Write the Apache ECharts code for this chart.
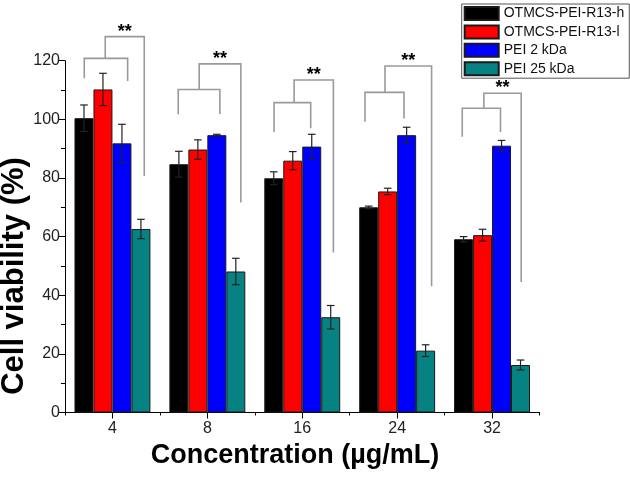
<!DOCTYPE html>
<html>
<head>
<meta charset="utf-8">
<script src="https://cdn.jsdelivr.net/npm/echarts@6/dist/echarts.min.js"></script>
<style>html,body{margin:0;padding:0;background:#fff}#c{width:630px;height:477px}</style>
</head>
<body>
<div id="c"></div>
<script>
const categories = ['4', '8', '16', '24', '32'];
const seriesNames = ['OTMCS-PEI-R13-h', 'OTMCS-PEI-R13-l', 'PEI 2 kDa', 'PEI 25 kDa'];
const seriesColors = ['#000000', '#ff0000', '#0000ff', '#078282'];
const valH = [100.4, 84.7, 79.9, 70.0, 59.1];
const errH = [4.5, 4.4, 2.2, 0.4, 0.9];
const valL = [110.2, 89.7, 85.9, 75.4, 60.5];
const errL = [5.5, 3.3, 3.1, 1.1, 2.0];
const val2k = [91.8, 94.6, 90.7, 94.6, 91.0];
const err2k = [6.5, 0.3, 4.2, 2.7, 1.8];
const val25k = [62.6, 48.1, 32.5, 21.1, 16.2];
const err25k = [3.3, 4.5, 4.0, 2.0, 1.7];
const yTicks = [0, 20, 40, 60, 80, 100, 120];

// significance brackets (x as offset within category band, y in data units)
const bracketLeftX = [-0.297, -0.307, -0.297, -0.339, -0.314];
const bracketMidX = [-0.076, -0.086, -0.086, -0.128, -0.086];
const bracketRightX = [0.160, 0.132, 0.089, 0.072, 0.089];
const bracketFarX = [0.335, 0.353, 0.328, 0.363, 0.307];
const bracketLowY = [120.8, 110.2, 105.7, 109.2, 103.8];
const bracketLeftEnd = [114.0, 101.7, 95.7, 99.2, 94.1];
const bracketRightEnd = [113.1, 101.8, 97.0, 100.3, 95.7];
const bracketTopY = [128.2, 118.9, 113.4, 118.2, 108.9];
const bracketFarEnd = [80.7, 71.6, 54.6, 43.1, 44.5];
const bracketLabel = '**';

const values = [valH, valL, val2k, val25k];
const errors = [errH, errL, err2k, err25k];
const barOffsets = [-0.3, -0.1, 0.1, 0.3];
const FONT = "'Liberation Sans', Arial, sans-serif";

const chart = echarts.init(document.getElementById('c'), null, {renderer: 'canvas'});

const barSeries = seriesNames.map((name, k) => ({
  name: name,
  type: 'bar',
  data: values[k],
  barGap: '0%',
  barCategoryGap: '20%',
  itemStyle: {color: seriesColors[k], borderColor: '#1a1a1a', borderWidth: 1},
  emphasis: {disabled: true},
  z: 2
}));

const errSeries = seriesNames.map((name, k) => ({
  type: 'custom',
  data: values[k].map((v, i) => [i, v, errors[k][i]]),
  z: 3,
  silent: true,
  renderItem: function (params, api) {
    const i = api.value(0), v = api.value(1), e = api.value(2);
    const band = api.size([1, 0])[0];
    const cx = api.coord([i, v])[0] + barOffsets[k] * band;
    const yt = api.coord([i, v + e])[1];
    const yb = api.coord([i, v - e])[1];
    const hw = 3.8;
    const st = {stroke: '#222', lineWidth: 1.2};
    return {type: 'group', children: [
      {type: 'line', shape: {x1: cx, y1: yt, x2: cx, y2: yb}, style: st},
      {type: 'line', shape: {x1: cx - hw, y1: yt, x2: cx + hw, y2: yt}, style: st},
      {type: 'line', shape: {x1: cx - hw, y1: yb, x2: cx + hw, y2: yb}, style: st}
    ]};
  }
}));

const bracketSeries = {
  type: 'custom',
  data: categories.map((c, i) => [i]),
  z: 4,
  silent: true,
  clip: false,
  renderItem: function (params, api) {
    const i = params.dataIndex;
    const band = api.size([1, 0])[0];
    const c0 = api.coord([i, 0])[0];
    const X = f => c0 + f * band;
    const Y = v => api.coord([i, v])[1];
    const xl = X(bracketLeftX[i]), xm = X(bracketMidX[i]), xr = X(bracketRightX[i]), xf = X(bracketFarX[i]);
    const yLow = Y(bracketLowY[i]), yTop = Y(bracketTopY[i]);
    const st = {stroke: '#9a9a9a', lineWidth: 1.6, fill: null};
    return {type: 'group', children: [
      {type: 'polyline', shape: {points: [[xl, Y(bracketLeftEnd[i])], [xl, yLow], [xr, yLow], [xr, Y(bracketRightEnd[i])]]}, style: st},
      {type: 'polyline', shape: {points: [[xm, yLow], [xm, yTop], [xf, yTop], [xf, Y(bracketFarEnd[i])]]}, style: st},
      {type: 'text', x: (xm + xf) / 2, y: yTop + 4, style: {text: bracketLabel, fill: '#000', font: 'bold 18px ' + FONT, textAlign: 'center', textVerticalAlign: 'bottom'}}
    ]};
  }
};

const option = {
  animation: false,
  backgroundColor: '#fff',
  grid: {left: 65, right: 90.5, top: 60.7, bottom: 64.5, containLabel: false},
  legend: {
    show: true,
    data: seriesNames,
    orient: 'vertical',
    left: 461.7,
    top: 4,
    padding: [2, 5, 2, 2],
    itemWidth: 34,
    itemHeight: 13,
    itemGap: 3.4,
    backgroundColor: '#fff',
    borderColor: '#555',
    borderWidth: 1,
    borderRadius: 0,
    textStyle: {fontSize: 14, fontFamily: FONT, color: '#111', padding: [0, 0, 0, 0]},
    selectedMode: false,
    icon: 'rect',
    z: 10
  },
  xAxis: [{
    type: 'category',
    data: categories,
    position: 'bottom',
    axisLine: {show: true, lineStyle: {color: '#000', width: 1}},
    axisTick: {show: true, alignWithLabel: true, length: 6, lineStyle: {color: '#000', width: 1}},
    axisLabel: {fontSize: 16, fontFamily: FONT, color: '#222', margin: 8},
    splitLine: {show: false}
  }, {
    type: 'category',
    data: categories,
    position: 'bottom',
    axisLine: {show: false},
    axisTick: {show: true, alignWithLabel: false, interval: 0, length: 3, lineStyle: {color: '#000', width: 1}},
    axisLabel: {show: false},
    splitLine: {show: false}
  }],
  yAxis: {
    type: 'value',
    min: yTicks[0],
    max: yTicks[yTicks.length - 1],
    interval: yTicks[1] - yTicks[0],
    axisLine: {show: true, lineStyle: {color: '#000', width: 1}},
    axisTick: {show: true, length: 7, lineStyle: {color: '#000', width: 1}},
    minorTick: {show: true, splitNumber: 2, length: 4, lineStyle: {color: '#000', width: 1}},
    axisLabel: {fontSize: 16, fontFamily: FONT, color: '#222', margin: 5},
    splitLine: {show: false}
  },
  graphic: [
    {type: 'text', x: 14, y: 276, rotation: Math.PI / 2, style: {text: 'Cell viability (%)', font: 'bold 31px ' + FONT, fill: '#000', textAlign: 'center', textVerticalAlign: 'middle'}},
    {type: 'text', x: 295, y: 456, style: {text: 'Concentration (µg/mL)', font: 'bold 27px ' + FONT, fill: '#000', textAlign: 'center', textVerticalAlign: 'middle'}}
  ],
  series: [...barSeries, ...errSeries, bracketSeries]
};
chart.setOption(option);
</script>
</body>
</html>
